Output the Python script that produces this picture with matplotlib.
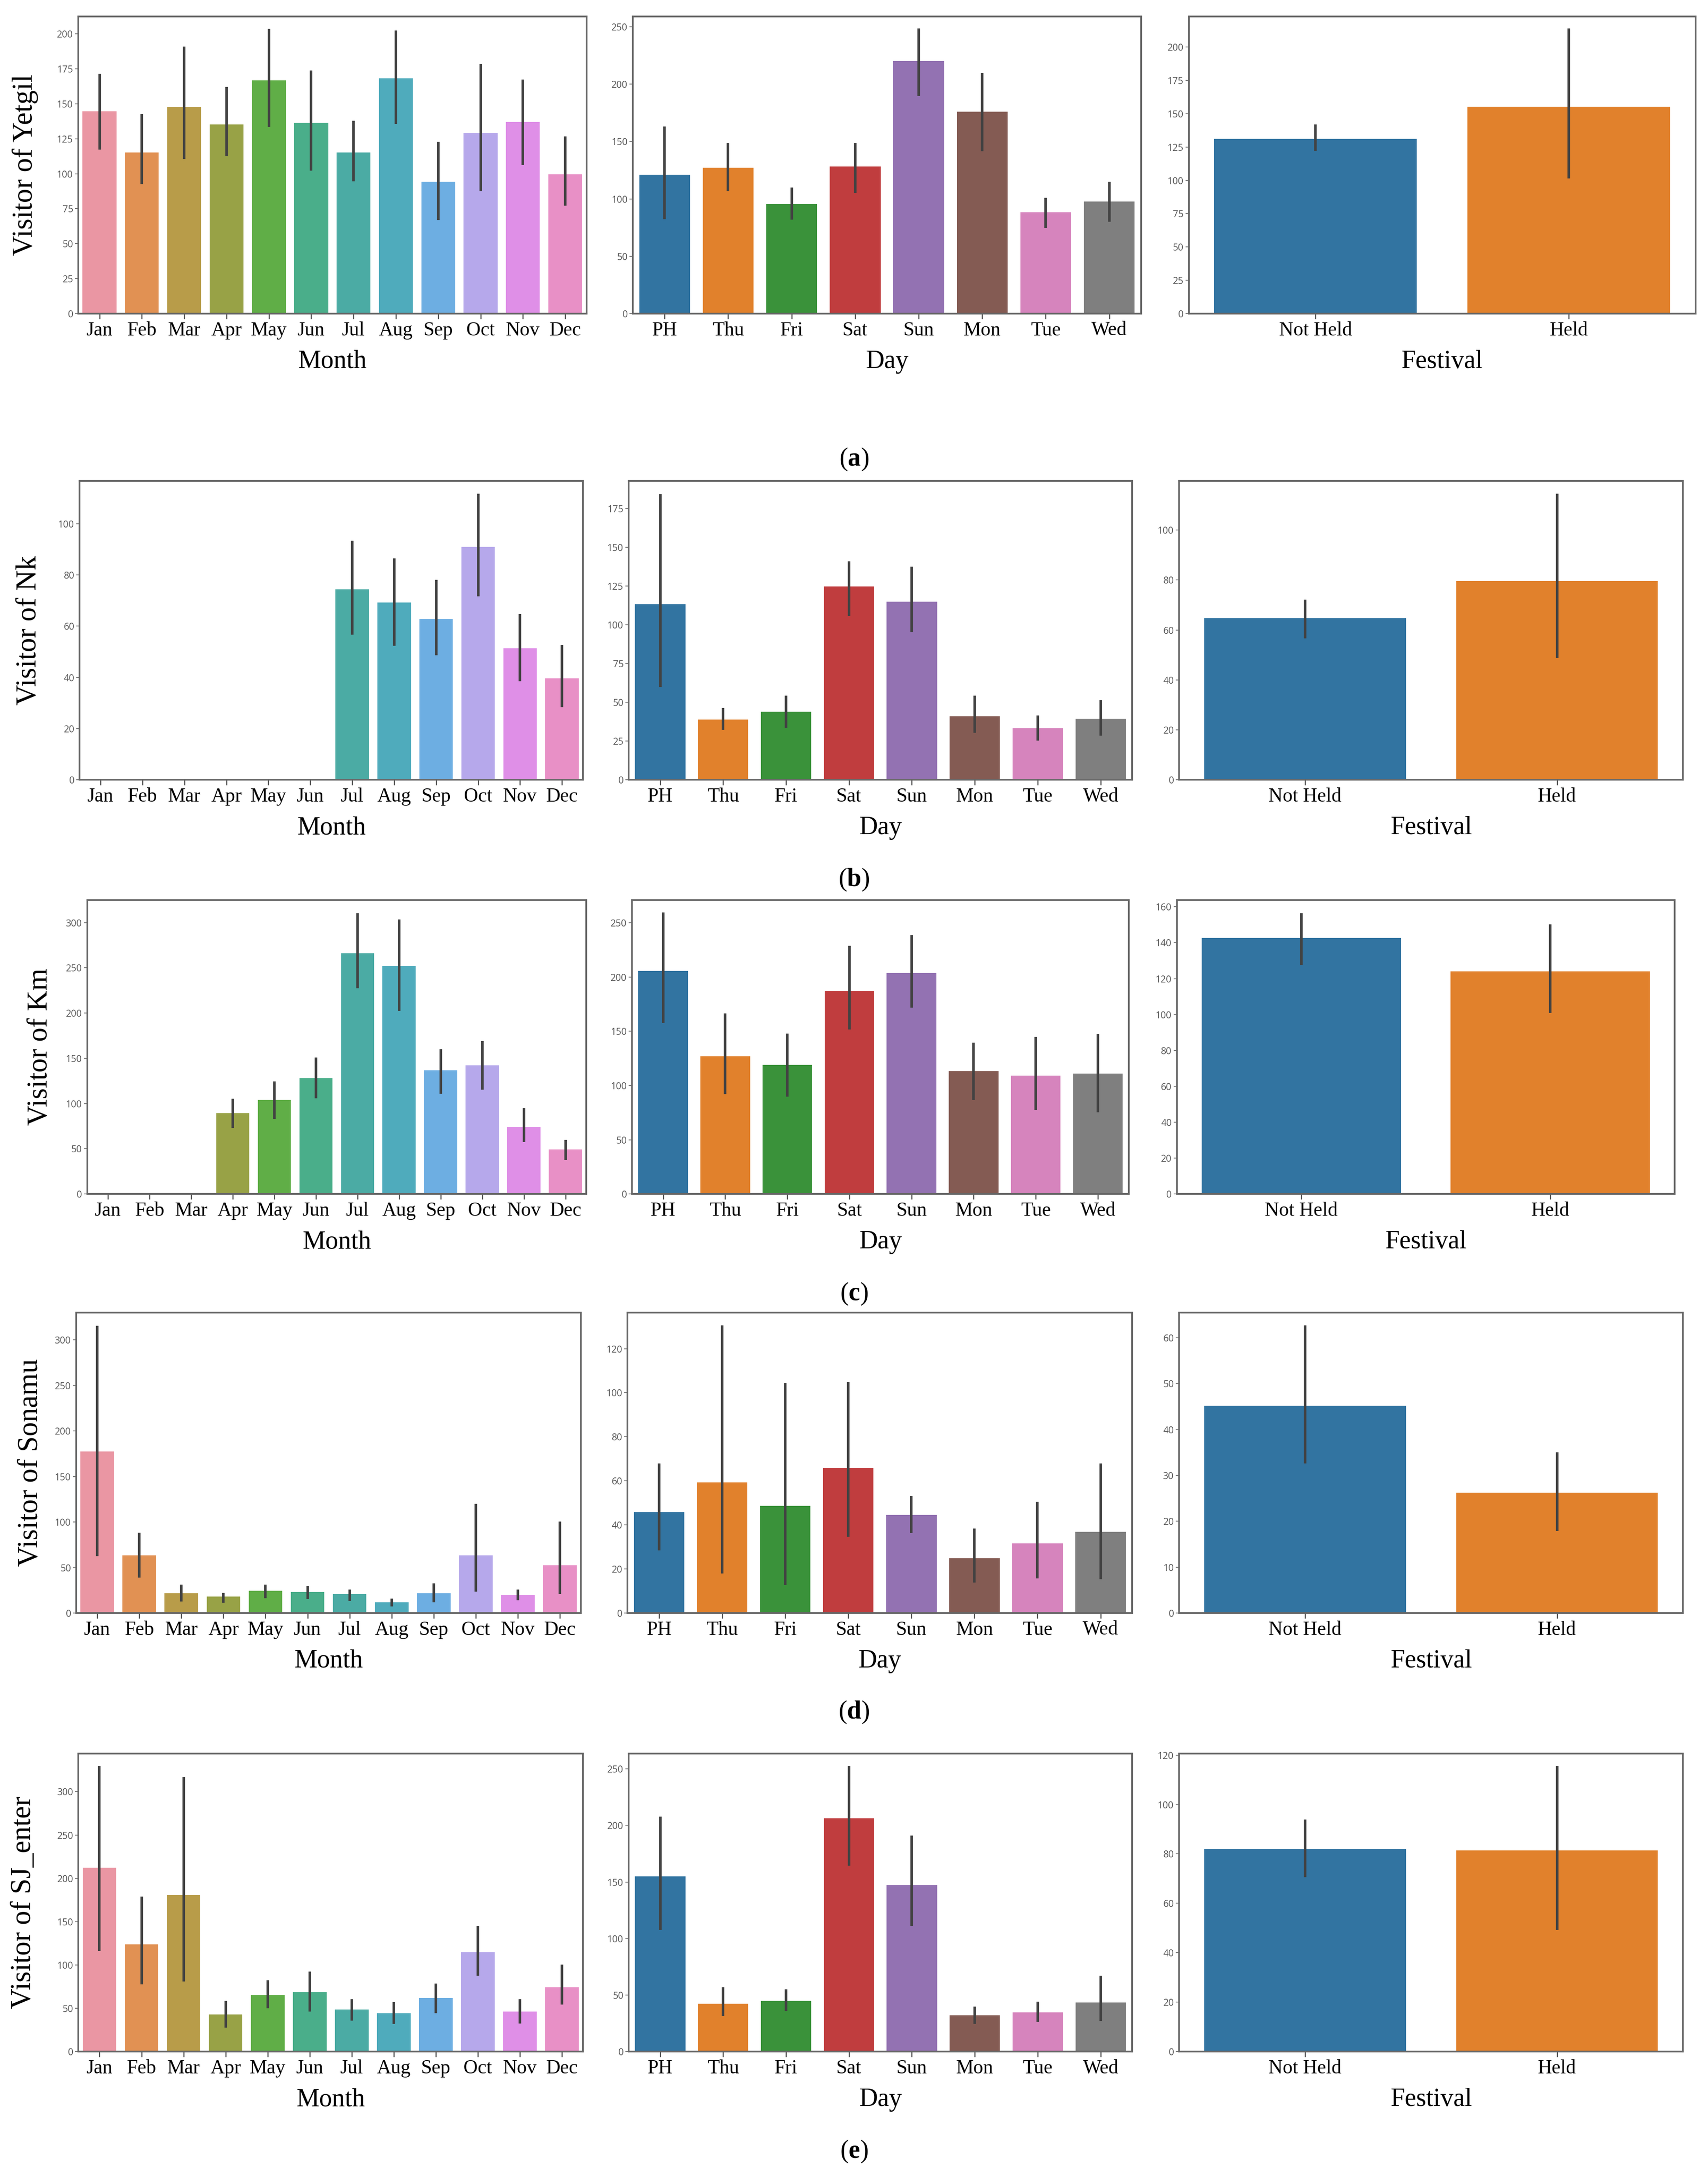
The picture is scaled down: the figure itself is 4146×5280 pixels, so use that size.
import numpy as np
import matplotlib.pyplot as plt
import seaborn as sns

plt.rcParams['font.family'] = ['Liberation Serif', 'DejaVu Serif']
plt.rcParams['mathtext.fontset'] = 'custom'
plt.rcParams['mathtext.rm'] = 'Liberation Serif'
plt.rcParams['mathtext.bf'] = 'Liberation Serif:bold'

# categories
months = ['Jan', 'Feb', 'Mar', 'Apr', 'May', 'Jun', 'Jul', 'Aug', 'Sep', 'Oct', 'Nov', 'Dec']
days = ['PH', 'Thu', 'Fri', 'Sat', 'Sun', 'Mon', 'Tue', 'Wed']
festival = ['Not Held', 'Held']
sites = ['Yetgil', 'Nk', 'Km', 'Sonamu', 'SJ_enter']
tags = ['a', 'b', 'c', 'd', 'e']

# (a) Yetgil
yetgil_month = [144.6, 115.2, 147.7, 135.2, 166.8, 136.4, 115.2, 168.2, 94.3, 128.9, 137.1, 99.6]
yetgil_month_lo = [117.3, 92.5, 110.4, 112.5, 133.4, 102.1, 94.6, 135.5, 67.0, 87.5, 106.4, 77.1]
yetgil_month_hi = [171.4, 142.5, 191.0, 162.0, 203.6, 173.8, 137.9, 202.3, 123.0, 178.4, 167.3, 126.6]
yetgil_day = [120.9, 127.0, 95.6, 128.1, 220.0, 175.8, 88.2, 97.6]
yetgil_day_lo = [82.1, 106.8, 81.7, 105.2, 189.5, 141.6, 74.7, 80.0]
yetgil_day_hi = [163.0, 148.8, 110.0, 148.8, 248.4, 209.8, 100.9, 115.0]
yetgil_fest = [131.1, 155.2]
yetgil_fest_lo = [122.0, 101.3]
yetgil_fest_hi = [142.0, 213.9]

# (b) Nk
nk_month = [0, 0, 0, 0, 0, 0, 74.3, 69.3, 62.8, 91.0, 51.3, 39.6]
nk_month_lo = [0, 0, 0, 0, 0, 0, 56.7, 52.3, 48.7, 71.6, 38.5, 28.4]
nk_month_hi = [0, 0, 0, 0, 0, 0, 93.4, 86.5, 78.1, 111.7, 64.8, 52.7]
nk_day = [113.5, 39.0, 44.1, 124.8, 115.1, 41.1, 33.3, 39.5]
nk_day_lo = [59.9, 32.2, 33.7, 105.8, 95.3, 30.4, 25.3, 28.5]
nk_day_hi = [184.4, 46.5, 54.3, 141.0, 137.7, 54.3, 41.7, 51.5]
nk_fest = [64.8, 79.5]
nk_fest_lo = [56.6, 48.8]
nk_fest_hi = [72.1, 114.5]

# (c) Km
km_month = [0, 0, 0, 89.2, 103.9, 128.2, 266.0, 252.2, 136.7, 142.3, 74.0, 49.2]
km_month_lo = [0, 0, 0, 73.2, 83.1, 105.8, 227.3, 202.5, 110.8, 115.5, 57.5, 37.6]
km_month_hi = [0, 0, 0, 105.2, 124.6, 150.8, 310.2, 303.3, 160.2, 169.3, 94.8, 59.7]
km_day = [205.5, 126.8, 118.9, 187.0, 203.7, 113.2, 109.2, 110.9]
km_day_lo = [157.7, 91.9, 89.6, 151.5, 171.6, 86.8, 77.6, 75.3]
km_day_hi = [259.4, 166.5, 148.0, 228.6, 238.6, 139.3, 144.8, 147.3]
km_fest = [142.6, 124.0]
km_fest_lo = [127.5, 100.8]
km_fest_hi = [156.5, 150.2]

# (d) Sonamu
sonamu_month = [177.5, 63.5, 21.6, 18.3, 24.6, 23.0, 20.8, 12.0, 21.6, 63.5, 20.0, 52.5]
sonamu_month_lo = [62.6, 38.8, 12.9, 11.5, 16.4, 15.6, 13.4, 7.4, 12.0, 23.8, 14.2, 21.1]
sonamu_month_hi = [315.6, 88.1, 31.5, 22.4, 31.5, 30.1, 26.0, 16.1, 32.5, 120.1, 26.0, 100.4]
sonamu_day = [45.8, 59.4, 48.6, 65.8, 44.5, 25.0, 31.6, 36.9]
sonamu_day_lo = [28.5, 18.0, 12.7, 34.7, 36.4, 13.8, 15.7, 15.3]
sonamu_day_hi = [67.9, 130.6, 104.4, 104.9, 53.2, 38.4, 50.6, 67.9]
sonamu_fest = [45.2, 26.25]
sonamu_fest_lo = [32.6, 17.9]
sonamu_fest_hi = [62.7, 35.0]

# (e) SJ_enter
sj_month = [212.3, 123.8, 180.9, 43.1, 65.4, 68.8, 48.7, 44.4, 62.1, 114.8, 46.1, 74.4]
sj_month_lo = [116.2, 77.8, 81.1, 27.7, 50.1, 46.1, 36.0, 32.0, 44.4, 87.8, 32.7, 54.4]
sj_month_hi = [329.8, 178.9, 316.8, 58.7, 82.4, 92.5, 60.4, 57.1, 78.8, 145.2, 60.7, 100.5]
sj_day = [154.9, 42.4, 45.0, 206.3, 147.2, 32.2, 34.8, 43.5]
sj_day_lo = [107.6, 31.4, 35.8, 164.4, 111.2, 24.5, 26.3, 27.1]
sj_day_hi = [207.8, 57.0, 55.2, 252.6, 191.0, 39.9, 44.2, 67.2]
sj_fest = [81.9, 81.4]
sj_fest_lo = [70.5, 49.2]
sj_fest_hi = [93.9, 115.6]

site_data = [
    [(yetgil_month, yetgil_month_lo, yetgil_month_hi), (yetgil_day, yetgil_day_lo, yetgil_day_hi), (yetgil_fest, yetgil_fest_lo, yetgil_fest_hi)],
    [(nk_month, nk_month_lo, nk_month_hi), (nk_day, nk_day_lo, nk_day_hi), (nk_fest, nk_fest_lo, nk_fest_hi)],
    [(km_month, km_month_lo, km_month_hi), (km_day, km_day_lo, km_day_hi), (km_fest, km_fest_lo, km_fest_hi)],
    [(sonamu_month, sonamu_month_lo, sonamu_month_hi), (sonamu_day, sonamu_day_lo, sonamu_day_hi), (sonamu_fest, sonamu_fest_lo, sonamu_fest_hi)],
    [(sj_month, sj_month_lo, sj_month_hi), (sj_day, sj_day_lo, sj_day_hi), (sj_fest, sj_fest_lo, sj_fest_hi)],
]

# axis upper limits and tick steps for each panel
ymax = [[212.5, 259, 223], [116.7, 193, 119.7], [325, 271, 163.8], [330, 136.4, 65.5], [344, 263.5, 120.6]]
ystep = [[25, 50, 25], [20, 25, 20], [50, 50, 20], [50, 20, 10], [50, 50, 20]]

# layout, in pixels of a 1232 x 1568 view
W, H = 1232.0, 1568.0
row_top = [11.8, 346.5, 648.5, 945.8, 1263.6]
row_bot = [226, 562, 860.4, 1162.4, 1478.4]
col_l = [[56.5, 456.5, 857.5], [57.4, 453.5, 850.5], [62.9, 455.9, 848.9], [55, 452.7, 850.5], [56.6, 453.5, 850.5]]
col_r = [[423, 823, 1223], [420.5, 816.6, 1214], [422.9, 814.3, 1208], [419, 816.6, 1214], [420.5, 816.6, 1214]]
cap_y = [331, 634, 932.5, 1234, 1550.6]
ylab_x = [18, 21, 29, 22, 17]

month_cols = sns.color_palette(sns.husl_palette(12, l=0.7), desat=0.75)
day_cols = sns.color_palette('tab10', 8, desat=0.75)
fest_cols = day_cols[:2]

cats = [months, days, festival]
cols = [month_cols, day_cols, fest_cols]
xlabels = ['Month', 'Day', 'Festival']

fig = plt.figure(figsize=(4146 / 300, 5280 / 300), dpi=300)

for r in range(5):
    for c in range(3):
        ax = fig.add_axes([col_l[r][c] / W, 1 - row_bot[r] / H,
                           (col_r[r][c] - col_l[r][c]) / W, (row_bot[r] - row_top[r]) / H])
        vals, lo, hi = site_data[r][c]
        x = np.arange(len(cats[c]))
        ax.bar(x, vals, width=0.8, color=cols[c])
        for i in range(len(x)):
            if hi[i] > lo[i]:
                ax.plot([x[i], x[i]], [lo[i], hi[i]], color='#424242', lw=1.5, solid_capstyle='butt')
        ax.set_xlim(-0.5, len(x) - 0.5)
        ax.set_ylim(0, ymax[r][c])
        ax.set_yticks(np.arange(0, ymax[r][c], ystep[r][c]))
        ax.set_xticks(x)
        ax.set_xticklabels(cats[c], fontsize=11.5)
        for lab in ax.get_yticklabels():
            lab.set_family(['Open Sans', 'DejaVu Sans'])
        ax.tick_params(axis='y', labelsize=5.5, labelcolor='#555555', color='#777777', length=2, width=0.5, pad=1)
        ax.tick_params(axis='x', length=3, width=0.6, color='#444444', pad=1.5)
        for s in ax.spines.values():
            s.set_color('#666666')
            s.set_linewidth(1.0)
        ax.set_xlabel(xlabels[c], fontsize=15, labelpad=6)
    fig.text(ylab_x[r] / W, 1 - (row_top[r] + row_bot[r]) / 2 / H, 'Visitor of ' + sites[r],
             rotation=90, ha='center', va='center', fontsize=16.5)
    fig.text(616 / W, 1 - cap_y[r] / H, '($\\mathbf{' + tags[r] + '}$)', ha='center', va='center', fontsize=15)

fig.savefig('out.png', dpi=300)
